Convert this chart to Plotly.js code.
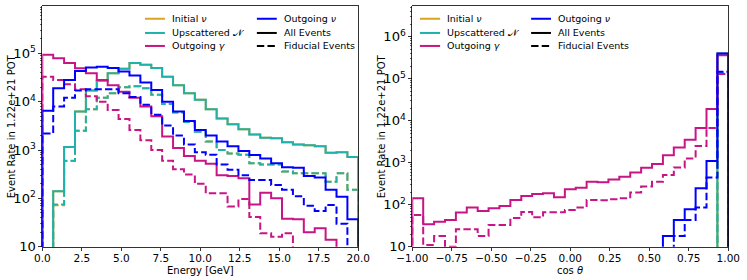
<!DOCTYPE html>
<html><head><meta charset="utf-8">
<script src="https://cdn.plot.ly/plotly-3.0.1.min.js"></script>
<style>html,body{margin:0;padding:0;background:#fff}#chart{width:747px;height:280px}</style>
</head><body><div id="chart"></div>
<script>
// ---- binning ----
const energyRange = [0, 20];
const cosRange = [-1, 1];
const nBins = 29;

// ---- Energy spectra (events per bin) ----
const energyInitialAll = [0, 140, 1150, 6300, 17000, 27000, 39000, 48000, 63000, 58000, 50000, 33000, 22000, 15000, 11000, 7000, 4500, 3400, 2700, 2100, 1800, 1750, 1450, 1300, 1250, 1200, 880, 900, 720];
const energyInitialFid = [0, 72, 590, 2500, 7000, 12000, 15000, 20000, 21000, 19000, 14000, 9000, 6000, 3800, 2400, 1500, 1000, 850, 800, 530, 500, 500, 360, 330, 330, 330, 220, 330, 150];
const energyNAll = [0, 140, 1150, 6300, 17000, 27000, 39000, 48000, 63000, 58000, 50000, 33000, 22000, 15000, 11000, 7000, 4500, 3400, 2700, 2100, 1800, 1750, 1450, 1300, 1250, 1200, 880, 900, 720];
const energyNFid = [0, 75, 600, 2500, 7000, 12000, 15000, 20000, 21000, 19000, 14000, 9000, 6000, 3800, 2400, 1500, 1000, 850, 800, 530, 500, 500, 360, 330, 330, 330, 220, 330, 150];
const energyGammaAll = [94000, 79000, 63000, 49000, 39000, 28000, 22000, 16000, 12000, 8000, 5000, 1900, 1100, 750, 600, 520, 300, 290, 260, 75, 130, 100, 38, 37, 20, 24, 14, 0, 0];
const energyGammaFid = [33000, 28000, 23000, 18000, 13000, 10000, 6700, 4400, 2600, 1600, 1000, 600, 400, 310, 200, 127, 127, 68, 97, 41, 19, 16, 19, 0, 0, 0, 0, 0, 0];
const energyNuOutAll = [6500, 19000, 28000, 43000, 51000, 53000, 50000, 42000, 35000, 25000, 17500, 10000, 6300, 4000, 2600, 2000, 1500, 1200, 950, 790, 670, 530, 440, 430, 290, 270, 150, 108, 37];
const energyNuOutFid = [2200, 8000, 12000, 17000, 18000, 18000, 18000, 15000, 12500, 8600, 5400, 3200, 2000, 1300, 900, 800, 500, 390, 300, 240, 240, 190, 150, 110, 70, 55, 73, 30, 0];

// ---- cos(theta) spectra ----
const cosInitialAll = [0,0,0,0,0,0,0,0,0,0,0,0,0,0,0,0,0,0,0,0,0,0,0,0,0,0,0,0,400000];
const cosInitialFid = [0,0,0,0,0,0,0,0,0,0,0,0,0,0,0,0,0,0,0,0,0,0,0,0,0,0,0,0,140000];
const cosNAll = [0,0,0,0,0,0,0,0,0,0,0,0,0,0,0,0,0,0,0,0,0,0,0,0,0,0,0,0,400000];
const cosNFid = [0,0,0,0,0,0,0,0,0,0,0,0,0,0,0,0,0,0,0,0,0,0,0,0,0,0,0,0,140000];
const cosGammaAll = [142, 34, 39, 43, 65, 86, 71, 82, 93, 130, 161, 180, 186, 150, 234, 254, 353, 340, 400, 464, 580, 760, 930, 1500, 2300, 3500, 6700, 19000, 360000];
const cosGammaFid = [57, 11, 18, 10, 26, 26, 18, 33, 33, 48, 67, 50, 66, 66, 75, 86, 130, 128, 135, 142, 194, 270, 353, 510, 770, 1260, 2500, 6700, 130000];
const cosNuOutAll = [0,0,0,0,0,0,0,0,0,0,0,0,0,0,0,0,0,0,0,0,0,0,0,18, 43, 78, 245, 1100, 400000];
const cosNuOutFid = [0,0,0,0,0,0,0,0,0,0,0,0,0,0,0,0,0,0,0,0,0,0,0,0, 18, 43, 86, 445, 147000];

// ---- legend / labels ----
const particleLabels = ['Initial <i>ν</i>', 'Upscattered 𝒩', 'Outgoing <i>γ</i>', 'Outgoing <i>ν</i>'];
const styleLabels = ['All Events', 'Fiducial Events'];
const colors = ['goldenrod', 'lightseagreen', 'mediumvioletred', 'blue'];
const yTitle = 'Event Rate in 1.22e+21 POT';

function binEdges(r){ const e=[]; for(let i=0;i<=nBins;i++) e.push(r[0]+(r[1]-r[0])*i/nBins); return e; }
function stepXY(edges, vals){
  const floor = 1e-3;
  const x=[edges[0]], y=[floor];
  vals.forEach((v,i)=>{ x.push(edges[i]); y.push(v>0?v:floor); });
  const last = vals[vals.length-1];
  x.push(edges[edges.length-1]); y.push(last>0?last:floor);
  x.push(edges[edges.length-1]); y.push(floor);
  return {x, y};
}
const eE = binEdges(energyRange), cE = binEdges(cosRange);
const DASH = '7.4px,3.2px';
const traces = [];
function addHist(edges, vals, color, dashed, xa, ya){
  const s = stepXY(edges, vals);
  traces.push({type:'scatter', mode:'lines', x:s.x, y:s.y, xaxis:xa, yaxis:ya,
    line:{shape:'hv', color:color, width:2, dash: dashed?DASH:'solid'}, showlegend:false, hoverinfo:'skip'});
}
const eSets = [[energyInitialAll, energyInitialFid],[energyNAll, energyNFid],[energyGammaAll, energyGammaFid],[energyNuOutAll, energyNuOutFid]];
const cSets = [[cosInitialAll, cosInitialFid],[cosNAll, cosNFid],[cosGammaAll, cosGammaFid],[cosNuOutAll, cosNuOutFid]];
eSets.forEach((p,i)=>{ addHist(eE, p[0], colors[i], false, 'x','y'); addHist(eE, p[1], colors[i], true, 'x','y'); });
cSets.forEach((p,i)=>{ addHist(cE, p[0], colors[i], false, 'x2','y2'); addHist(cE, p[1], colors[i], true, 'x2','y2'); });

const font = {family:'DejaVu Sans, sans-serif', size:10, color:'#000'};
const tickFont = {family:'DejaVu Sans, sans-serif', size:10.5, color:'#000'};
const axisCommon = {showline:true, mirror:true, linecolor:'#000', linewidth:0.8, showgrid:false, zeroline:false,
  ticks:'outside', ticklen:3.5, tickwidth:0.8, tickcolor:'#000', tickfont:tickFont};
const logAxis = Object.assign({}, axisCommon, {type:'log', dtick:1, exponentformat:'power',
  minor:{ticks:'outside', ticklen:2, tickwidth:0.6, tickcolor:'#000', dtick:'D1', showgrid:false}});

const shapes = [], annotations = [];
function legend(xa, ya, cols, rows){
  const entries = [
    [particleLabels[0], colors[0], false, 0, 0],
    [particleLabels[1], colors[1], false, 0, 1],
    [particleLabels[2], colors[2], false, 0, 2],
    [particleLabels[3], colors[3], false, 1, 0],
    [styleLabels[0], '#000', false, 1, 1],
    [styleLabels[1], '#000', true, 1, 2]
  ];
  entries.forEach(en=>{
    const c = cols[en[3]], y = rows[en[4]];
    shapes.push({type:'line', xref:xa+' domain', yref:ya+' domain', x0:c[0], x1:c[1], y0:y, y1:y,
      line:{color:en[1], width:2, dash: en[2]?DASH:'solid'}});
    annotations.push({text:en[0], xref:xa+' domain', yref:ya+' domain', x:c[2], y:y, xanchor:'left', yanchor:'middle',
      showarrow:false, font:{family:font.family, size:9.5, color:'#000'}});
  });
}
legend('x','y', [[0.325,0.388,0.403],[0.679,0.742,0.758]], [0.947,0.888,0.834]);
legend('x2','y2', [[0.024,0.088,0.102],[0.376,0.439,0.454]], [0.947,0.888,0.834]);

annotations.push({text:yTitle, xref:'paper', yref:'paper', x:11/747, y:0.549, textangle:-90, showarrow:false, xanchor:'center', yanchor:'middle', font:font});
annotations.push({text:yTitle, xref:'paper', yref:'paper', x:381/747, y:0.549, textangle:-90, showarrow:false, xanchor:'center', yanchor:'middle', font:font});
annotations.push({text:'Energy [GeV]', xref:'paper', yref:'paper', x:200.3/747, y:1-270/280, showarrow:false, xanchor:'center', yanchor:'middle', font:font});
annotations.push({text:'cos <i>θ</i>', xref:'paper', yref:'paper', x:570.3/747, y:1-270/280, showarrow:false, xanchor:'center', yanchor:'middle', font:font});

const layout = {
  width:747, height:280, margin:{l:0,r:0,t:0,b:0}, paper_bgcolor:'#fff', plot_bgcolor:'#fff', font:font,
  showlegend:false,
  xaxis: Object.assign({}, axisCommon, {domain:[42.3/747, 358.3/747], range:energyRange, tick0:0, dtick:2.5, tickformat:'.1f', anchor:'y', ticklabelstandoff:-2}),
  yaxis: Object.assign({}, logAxis, {domain:[33.3/280, 274/280], range:[1, 5.98], anchor:'x'}),
  xaxis2: Object.assign({}, axisCommon, {domain:[412.3/747, 728.3/747], range:cosRange, tick0:-1, dtick:0.25, tickformat:'.2f', anchor:'y2', ticklabelstandoff:-2}),
  yaxis2: Object.assign({}, logAxis, {domain:[33.3/280, 274/280], range:[1, 6.73], anchor:'x2'}),
  shapes: shapes, annotations: annotations
};
Plotly.newPlot('chart', traces, layout, {displayModeBar:false, staticPlot:true});
</script></body></html>
